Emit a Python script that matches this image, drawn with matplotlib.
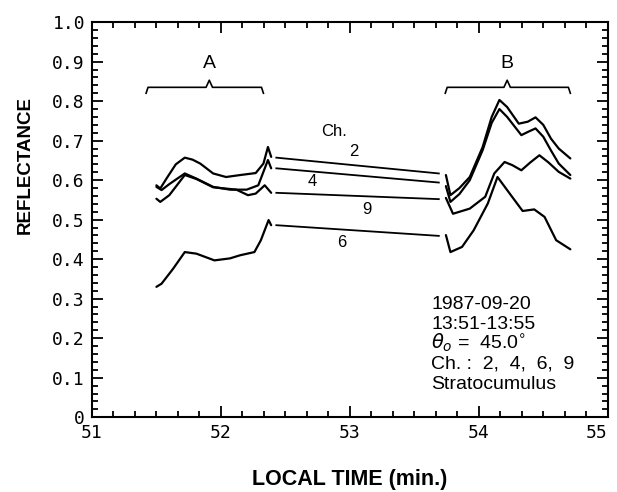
import numpy as np
import matplotlib
matplotlib.use("Agg")
import matplotlib.pyplot as plt
from matplotlib.ticker import MultipleLocator, FixedLocator

# reflectance traces, segment A (first pass over the cloud)
a_t2 = [51.50, 51.53, 51.58, 51.65, 51.72, 51.78, 51.84, 51.94, 52.04, 52.15, 52.27, 52.33, 52.365, 52.39]
a_r2 = [0.587, 0.579, 0.605, 0.640, 0.657, 0.652, 0.642, 0.617, 0.608, 0.613, 0.618, 0.642, 0.684, 0.659]
a_t4 = [51.50, 51.54, 51.60, 51.68, 51.72, 51.81, 51.94, 52.07, 52.20, 52.29, 52.365, 52.39]
a_r4 = [0.583, 0.575, 0.590, 0.608, 0.617, 0.604, 0.583, 0.576, 0.576, 0.587, 0.651, 0.630]
a_t9 = [51.50, 51.53, 51.60, 51.72, 51.81, 51.94, 52.12, 52.21, 52.27, 52.34, 52.39]
a_r9 = [0.553, 0.545, 0.562, 0.613, 0.603, 0.582, 0.576, 0.562, 0.566, 0.587, 0.568]
a_t6 = [51.50, 51.54, 51.63, 51.72, 51.81, 51.95, 52.07, 52.15, 52.26, 52.31, 52.37, 52.39]
a_r6 = [0.330, 0.338, 0.376, 0.418, 0.414, 0.397, 0.402, 0.410, 0.418, 0.448, 0.499, 0.486]

# segment B (second pass)
b_t2 = [53.745, 53.78, 53.85, 53.93, 54.03, 54.10, 54.16, 54.22, 54.31, 54.38, 54.44, 54.50, 54.56, 54.62, 54.71]
b_r2 = [0.613, 0.562, 0.580, 0.608, 0.684, 0.760, 0.803, 0.785, 0.743, 0.748, 0.759, 0.740, 0.705, 0.680, 0.655]
b_t4 = [53.745, 53.78, 53.85, 53.93, 54.03, 54.10, 54.16, 54.22, 54.33, 54.38, 54.44, 54.50, 54.56, 54.62, 54.71]
b_r4 = [0.585, 0.545, 0.565, 0.600, 0.676, 0.745, 0.780, 0.760, 0.714, 0.722, 0.731, 0.710, 0.675, 0.642, 0.613]
b_t9 = [53.745, 53.80, 53.93, 54.05, 54.12, 54.20, 54.26, 54.33, 54.40, 54.47, 54.54, 54.62, 54.71]
b_r9 = [0.555, 0.515, 0.528, 0.558, 0.617, 0.646, 0.638, 0.625, 0.645, 0.663, 0.645, 0.621, 0.604]
b_t6 = [53.745, 53.78, 53.87, 53.96, 54.07, 54.145, 54.24, 54.34, 54.43, 54.51, 54.60, 54.71]
b_r6 = [0.461, 0.418, 0.431, 0.473, 0.541, 0.608, 0.566, 0.522, 0.526, 0.507, 0.448, 0.425]

# straight lines bridging the gap between A and B
gap_t = [52.43, 53.69]
gap_r2 = [0.657, 0.617]
gap_r4 = [0.630, 0.594]
gap_r9 = [0.568, 0.552]
gap_r6 = [0.486, 0.459]

channels = ['2', '4', '9', '6']
label_t = [53.03, 52.71, 53.13, 52.94]
label_r = [0.673, 0.596, 0.527, 0.441]

# brackets marking the two passes
bracket_a = (51.42, 51.91, 52.33)
bracket_b = (53.74, 54.22, 54.71)
bracket_level = 0.835

x_ticks = [51, 52, 53, 54, 55]
x_ticklabels = ['51', '52', '53', '54', '55']
y_ticks = [0, 0.1, 0.2, 0.3, 0.4, 0.5, 0.6, 0.7, 0.8, 0.9, 1.0]
y_ticklabels = ['0', '0.1', '0.2', '0.3', '0.4', '0.5', '0.6', '0.7', '0.8', '0.9', '1.0']

info_lines = ['1987-09-20', '13:51-13:55', r'$\theta_o$ =  45.0$^{\circ}$', 'Ch. :  2,  4,  6,  9', 'Stratocumulus']

fig = plt.figure(figsize=(6.17, 4.92), dpi=100)
ax = fig.add_axes([0.149, 0.152, 0.836, 0.803])

lw = 1.6
for t, r in [(a_t2, a_r2), (a_t4, a_r4), (a_t9, a_r9), (a_t6, a_r6),
             (b_t2, b_r2), (b_t4, b_r4), (b_t9, b_r9), (b_t6, b_r6)]:
    ax.plot(t, r, color='k', lw=lw, solid_capstyle='round')
for r in [gap_r2, gap_r4, gap_r9, gap_r6]:
    ax.plot(gap_t, r, color='k', lw=1.3)

txt_font = 'Liberation Sans'
for ch, t, r in zip(channels, label_t, label_r):
    ax.text(t, r, ch, ha='center', va='center', fontsize=12, family=txt_font)
ax.text(52.88, 0.724, 'Ch.', ha='center', va='center', fontsize=12, family=txt_font)

# brackets
def draw_bracket(x0, xc, x1, y, name):
    bx = [x0, x0 + 0.015, xc - 0.025, xc, xc + 0.025, x1 - 0.015, x1]
    by = [y - 0.015, y, y, y + 0.018, y, y, y - 0.015]
    ax.plot(bx, by, color='k', lw=1.2)
    ax.text(xc, y + 0.06, name, ha='center', va='center', fontsize=14, family=txt_font)

draw_bracket(*bracket_a, bracket_level, 'A')
draw_bracket(*bracket_b, bracket_level, 'B')

for i, line in enumerate(info_lines):
    ax.text(53.63, 0.274 - i * 0.0505, line, ha='left', va='baseline', fontsize=14,
            family=txt_font)

ax.set_xlim(51, 55)
ax.set_ylim(0, 1.0)
ax.xaxis.set_major_locator(FixedLocator(x_ticks))
ax.xaxis.set_minor_locator(MultipleLocator(1 / 6))
ax.yaxis.set_major_locator(FixedLocator(y_ticks))
ax.yaxis.set_minor_locator(MultipleLocator(0.02))
ax.set_xticklabels(x_ticklabels)
ax.set_yticklabels(y_ticklabels)
for lab in ax.get_xticklabels() + ax.get_yticklabels():
    lab.set_family('DejaVu Sans Mono')
    lab.set_fontsize(13)

# keep the last x label inside the figure edge
ax.xaxis.get_major_ticks()[-1].label1.set_horizontalalignment('right')

ax.tick_params(which='both', direction='in', top=True, right=True, width=1.3)
ax.tick_params(which='major', length=8, pad=5)
ax.tick_params(which='minor', length=4)
for s in ax.spines.values():
    s.set_linewidth(1.5)

ax.set_xlabel('LOCAL TIME (min.)', fontsize=15.5, fontweight='bold', family=txt_font, labelpad=19)
ax.set_ylabel('REFLECTANCE', fontsize=13.5, fontweight='bold', family=txt_font)
ax.yaxis.set_label_coords(-0.112, 0.638)

fig.savefig('out.png', dpi=100)
